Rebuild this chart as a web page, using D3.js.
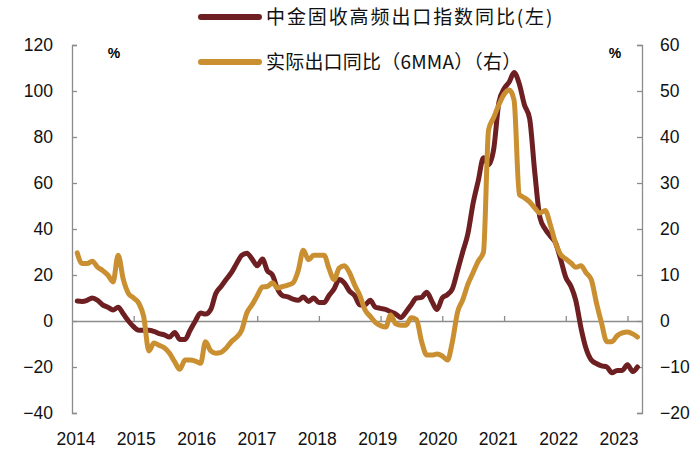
<!DOCTYPE html>
<html><head><meta charset="utf-8">
<script src="https://cdn.jsdelivr.net/npm/d3@7"></script>
<style>
html,body{margin:0;padding:0;background:#fff;}
svg{display:block;}
</style>
</head><body>
<svg id="c" width="700" height="457"></svg>
<script>
// ---- data ----
const firstMonth = "2014-02";
// 中金固收高频出口指数同比 (left axis, %), monthly from Feb 2014
const idxValues = [8.7,8.5,9,10,9,7,6,4.8,6,3,0,-2.5,-4,-4,-4,-4.5,-5.5,-6,-7,-5,
  -8,-8,-4,0,3.5,3,5,12,15,18,21,25,28.5,29.5,27,24,27,22,20,14,
  11,10.5,9.5,9,10.4,8.5,10,8,8,11,14,18,16.5,13,11,7,7,9,6,5.5,
  5,4,3,1.5,4,7,10,10.3,12.5,8.5,5,10,11.5,14,22,30,38,51,61,71,
  68,75,95,101,104,108,103,94,88,65,45,40,37,34,27,19,15,9,-3,-12,
  -17,-18.5,-19.5,-20,-22.5,-21.5,-21.5,-19,-22,-20];
// 实际出口同比（6MMA） (right axis, %), monthly from Feb 2014
const realValues = [14.8,12.5,12.5,13,11.7,11,10,8.5,14.3,9,6,5,3.8,1,-6.5,-4.8,-5.3,-5.8,-7,-8.9,
  -10.5,-8.5,-8.5,-8.7,-9.2,-4.5,-6.5,-7,-6.8,-5.9,-4.5,-3.5,-2,1.8,3.5,5.5,7.4,7.5,8.3,7.2,
  7.5,7.8,8.3,11,15.4,13.3,14.3,14.3,14.3,11.5,9,11.5,12,10.5,7.8,5.5,2.4,1,-0.3,-1,
  -1.3,1.3,-0.6,-0.9,-0.9,0.7,0.3,-4.5,-7.4,-7.4,-7.2,-7.6,-8.5,-4.5,2,4.6,8,10.5,13,15,
  41.5,44.3,47,49.3,50.2,48,27.5,26.8,25.9,24.6,23.5,24,21,17,14.5,13.5,12.6,11.7,12,10.5,
  9,4,-0.5,-4.5,-4.5,-3.2,-2.6,-2.4,-2.8,-3.5];
const yearLabels = ["2014","2015","2016","2017","2018","2019","2020","2021","2022","2023"];
const leftTicks = [-40,-20,0,20,40,60,80,100,120];
const rightTicks = [-20,-10,0,10,20,30,40,50,60];
const seriesNames = ["中金固收高频出口指数同比(左)","实际出口同比（6MMA）（右）"];
const colors = {idx:"#6d1f22", real:"#c98f30", axis:"#8c8c8c"};

// ---- build ----
const parseM = d3.timeParse("%Y-%m");
const start = parseM(firstMonth);
const monthAt = i => d3.timeMonth.offset(start, i);
const idxData = idxValues.map((v,i)=>({d:monthAt(i), v}));
const realData = realValues.map((v,i)=>({d:monthAt(i), v}));

const svg = d3.select("#c");
const L = 72, R = 642, T = 45, B = 413;
const x = d3.scaleTime().domain([new Date(2014,0,1), new Date(2023,2,28)]).range([L,R]);
const yL = d3.scaleLinear().domain([-40,120]).range([B,T]);
const yR = d3.scaleLinear().domain([-20,60]).range([B,T]);
// label band for year labels (labels sit slightly inside the tick grid in the source)
const xLab = d3.scalePoint().domain(yearLabels).range([76,619]);
const font = "'Liberation Sans', Arial, sans-serif";

// left axis
const gL = svg.append("g").attr("transform",`translate(${L},0)`)
  .call(d3.axisLeft(yL).tickValues(leftTicks).tickSize(-5).tickPadding(19));
// right axis
const gR = svg.append("g").attr("transform",`translate(${R},0)`)
  .call(d3.axisRight(yR).tickValues(rightTicks).tickSize(-5).tickPadding(18));
[gL,gR].forEach(g=>{
  g.selectAll("path,line").attr("stroke",colors.axis).attr("stroke-width",1.3);
  g.selectAll("text").attr("font-family",font).attr("font-size",17.5).attr("fill","#111");
});

// zero line with year ticks
const yearDates = yearLabels.map(y=>new Date(+y,0,1));
const gZ = svg.append("g").attr("transform",`translate(0,${yL(0)})`)
  .call(d3.axisTop(x).tickValues(yearDates.slice(1)).tickSize(5).tickSizeOuter(0).tickFormat(""));
gZ.selectAll("path,line").attr("stroke",colors.axis).attr("stroke-width",1.3);

// x labels
svg.append("g").selectAll("text").data(yearLabels).join("text")
  .attr("x",d=>xLab(d)).attr("y",445)
  .attr("text-anchor","middle").attr("font-family",font).attr("font-size",17.5).attr("fill","#111")
  .text(d=>d);

// % labels
svg.append("text").attr("x",114).attr("y",58).attr("text-anchor","middle")
  .attr("font-family",font).attr("font-size",14).attr("font-weight","bold").text("%");
svg.append("text").attr("x",615).attr("y",58).attr("text-anchor","middle")
  .attr("font-family",font).attr("font-size",14).attr("font-weight","bold").text("%");

// lines
const lineL = d3.line().x(d=>x(d.d)).y(d=>yL(d.v)).curve(d3.curveMonotoneX);
const lineR = d3.line().x(d=>x(d.d)).y(d=>yR(d.v)).curve(d3.curveMonotoneX);
svg.append("path").datum(idxData).attr("d",lineL).attr("fill","none")
  .attr("stroke",colors.idx).attr("stroke-width",5).attr("stroke-linejoin","round").attr("stroke-linecap","round");
svg.append("path").datum(realData).attr("d",lineR).attr("fill","none")
  .attr("stroke",colors.real).attr("stroke-width",5).attr("stroke-linejoin","round").attr("stroke-linecap","round");

// legend
const leg = svg.append("g");
[[colors.idx,17,1.9],[colors.real,62,0.2]].forEach(([c,yy,ls],i)=>{
  leg.append("line").attr("x1",201).attr("x2",259).attr("y1",yy).attr("y2",yy)
    .attr("stroke",c).attr("stroke-width",6).attr("stroke-linecap","round");
  leg.append("text").attr("x",266).attr("y",yy).attr("dy","0.36em")
    .attr("font-family","'Noto Sans CJK SC', sans-serif").attr("font-size",19).attr("fill","#111")
    .attr("letter-spacing",ls)
    .text(seriesNames[i]);
});
</script>
</body></html>
